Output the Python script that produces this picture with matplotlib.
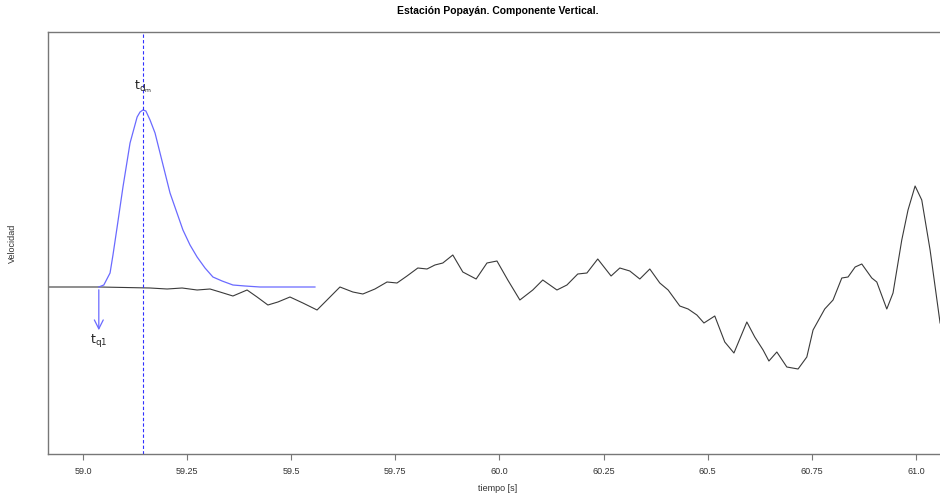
import numpy as np
import matplotlib
matplotlib.use('Agg')
import matplotlib.pyplot as plt

plt.rcParams['font.family'] = ['Liberation Sans', 'DejaVu Sans']

# registro vertical (velocidad, unidades relativas)
t_sig = [58.916, 59.041, 59.161, 59.202, 59.238, 59.274, 59.305, 59.329, 59.360, 59.394,
         59.418, 59.444, 59.468, 59.497, 59.528, 59.562, 59.586, 59.617, 59.648, 59.672,
         59.701, 59.730, 59.754, 59.778, 59.804, 59.826, 59.845, 59.864, 59.888, 59.912,
         59.944, 59.970, 59.994, 60.020, 60.049, 60.080, 60.104, 60.138, 60.162, 60.188,
         60.210, 60.236, 60.268, 60.289, 60.313, 60.337, 60.361, 60.385, 60.405, 60.433,
         60.453, 60.474, 60.491, 60.517, 60.541, 60.563, 60.594, 60.613, 60.633, 60.647,
         60.666, 60.690, 60.717, 60.738, 60.753, 60.781, 60.801, 60.822, 60.837, 60.854,
         60.870, 60.894, 60.906, 60.930, 60.945, 60.966, 60.981, 60.998, 61.014, 61.034,
         61.058]
v_sig = [0, 0, -0.01, -0.02, -0.01, -0.03, -0.02, -0.05, -0.09, -0.03,
         -0.10, -0.18, -0.15, -0.10, -0.16, -0.23, -0.13, 0, -0.05, -0.07,
         -0.02, 0.05, 0.04, 0.11, 0.19, 0.18, 0.22, 0.24, 0.32, 0.15,
         0.08, 0.24, 0.26, 0.07, -0.13, -0.03, 0.07, -0.03, 0.02, 0.13,
         0.14, 0.28, 0.11, 0.19, 0.16, 0.08, 0.18, 0.04, -0.03, -0.19,
         -0.22, -0.28, -0.36, -0.29, -0.55, -0.66, -0.35, -0.50, -0.63, -0.74,
         -0.65, -0.80, -0.82, -0.70, -0.43, -0.22, -0.13, 0.09, 0.10, 0.20,
         0.23, 0.09, 0.05, -0.22, -0.06, 0.47, 0.77, 1.01, 0.87, 0.37,
         -0.36]

# pulso ajustado
t_pulso = [59.038, 59.050, 59.065, 59.072, 59.082, 59.096, 59.113, 59.130, 59.137, 59.144,
           59.151, 59.161, 59.173, 59.185, 59.209, 59.240, 59.257, 59.274, 59.293, 59.312,
           59.334, 59.360, 59.389, 59.425, 59.557]
v_pulso = [0, 0.02, 0.14, 0.32, 0.60, 1.00, 1.44, 1.70, 1.75, 1.77,
           1.76, 1.67, 1.54, 1.34, 0.94, 0.57, 0.42, 0.30, 0.19, 0.10,
           0.06, 0.02, 0.01, 0, 0]

t_q1 = 59.038
t_dm = 59.144
xticks = [59.0, 59.25, 59.5, 59.75, 60.0, 60.25, 60.5, 60.75, 61.0]
xticklabels = ['59.0', '59.25', '59.5', '59.75', '60.0', '60.25', '60.5', '60.75', '61.0']

fig = plt.figure(figsize=(9.4, 4.94), dpi=100)
ax = fig.add_axes([48/940, 40/494, 900/940, 422/494])

ax.plot(t_sig, v_sig, color='#3a3a3a', lw=0.8, solid_joinstyle='round')
ax.plot(t_pulso, v_pulso, color='#6a6aff', lw=0.9, solid_joinstyle='round')
ax.axvline(t_dm, color='#3030ff', lw=0.8, ls=(0, (3, 2)))

# flecha en t_q1
ax.annotate('', xy=(t_q1, -0.46), xytext=(t_q1, 0),
            arrowprops=dict(arrowstyle='->', color='#6a6aff', lw=0.9,
                            mutation_scale=16))
ax.text(t_q1, -0.53, r'$\mathrm{t}_{\mathrm{q1}}$', ha='center', va='center',
        fontsize=9, color='#222222')
ax.text(t_dm, 2.0, r'$\mathrm{t}_{\mathrm{d_m}}$', ha='center', va='center',
        fontsize=9, color='#222222')

ax.set_xlim(58.916, 61.077)
ax.set_ylim(-1.67, 2.55)
ax.set_xticks(xticks)
ax.set_xticklabels(xticklabels, fontsize=6.5, color='#333333')
ax.set_yticks([])
ax.tick_params(axis='x', length=4, width=0.8, color='#777777', pad=5)
for s in ['left', 'top', 'bottom']:
    ax.spines[s].set_color('#777777')
    ax.spines[s].set_linewidth(1.0)
ax.spines['right'].set_visible(False)

ax.set_title('Estación Popayán. Componente Vertical.', fontsize=7.5,
             fontweight='bold', pad=13)
ax.set_xlabel('tiempo [s]', fontsize=6.5, color='#333333', labelpad=6)
ax.set_ylabel('Velocidad', fontsize=6.5, color='#333333', labelpad=22)

fig.savefig('out.png', dpi=100)
